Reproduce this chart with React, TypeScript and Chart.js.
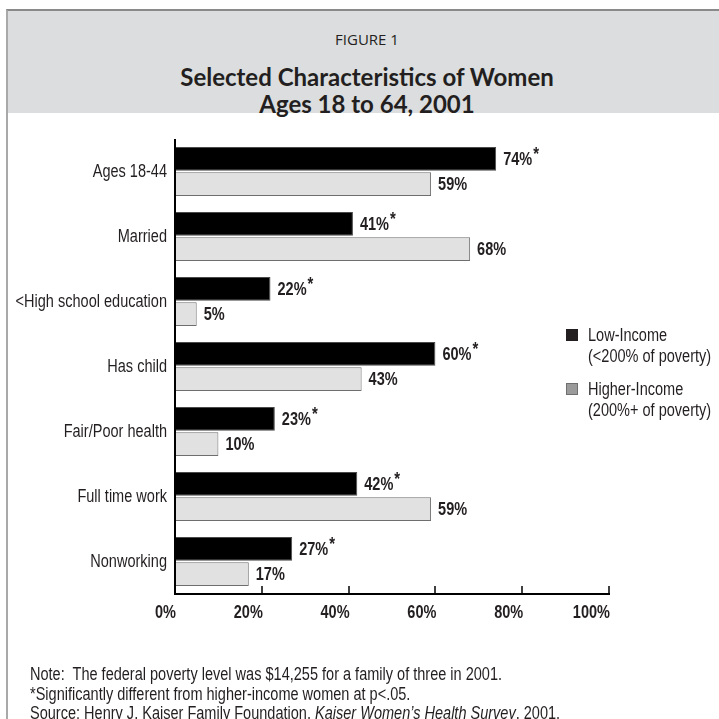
import React, { useEffect, useRef } from "react";
import { Chart, registerables } from "chart.js";

Chart.register(...registerables);

const categories = [
  "Ages 18-44",
  "Married",
  "<High school education",
  "Has child",
  "Fair/Poor health",
  "Full time work",
  "Nonworking",
];
const lowIncome = [74, 41, 22, 60, 23, 42, 27];
const higherIncome = [59, 68, 5, 43, 10, 59, 17];
const lowSignificant = [true, true, true, true, true, true, true];
const xTickValues = [0, 20, 40, 60, 80, 100];
const seriesNames = ["Low-Income", "Higher-Income"];
const seriesSubtitles = ["(<200% of poverty)", "(200%+ of poverty)"];
const legendSwatch = ["#231f20", "#9b9b9b"];
const legendSwatchBorder = ["#231f20", "#6f6f6f"];

const SANS = '"Liberation Sans", Arial, Helvetica, sans-serif';
const SX = 0.83; // horizontal condensing, imitating Helvetica Condensed
const FS = 17.5;
const TEXT = "#231f20";

function drawText(
  ctx: CanvasRenderingContext2D,
  text: string,
  x: number,
  y: number,
  align: CanvasTextAlign,
  font: string
): number {
  ctx.save();
  ctx.font = font;
  ctx.textAlign = align;
  ctx.textBaseline = "middle";
  ctx.translate(x, y);
  ctx.scale(SX, 1);
  ctx.fillText(text, 0, 0);
  const w = ctx.measureText(text).width * SX;
  ctx.restore();
  return w;
}

const overlayPlugin = {
  id: "overlay",
  afterDraw(chart: any) {
    const ctx = chart.ctx as CanvasRenderingContext2D;
    const xs = chart.scales.x;
    const ys = chart.scales.y;
    const area = chart.chartArea;
    ctx.save();
    ctx.fillStyle = TEXT;

    // category labels
    categories.forEach((c, i) => {
      drawText(ctx, c, area.left - 8, ys.getPixelForValue(i) + 1, "right", `${FS}px ${SANS}`);
    });

    // axes
    ctx.strokeStyle = "#000";
    ctx.lineWidth = 2;
    ctx.beginPath();
    ctx.moveTo(area.left, area.top);
    ctx.lineTo(area.left, area.bottom);
    ctx.lineTo(area.right + 1, area.bottom);
    ctx.stroke();

    // tick marks (inward)
    ctx.lineWidth = 1.5;
    xTickValues.forEach((v) => {
      if (v === 0) return;
      const px = Math.round(xs.getPixelForValue(v));
      ctx.beginPath();
      ctx.moveTo(px, area.bottom);
      ctx.lineTo(px, area.bottom - 8);
      ctx.stroke();
    });

    // tick labels
    xTickValues.forEach((v) => {
      const px = xs.getPixelForValue(v);
      drawText(ctx, `${v}%`, px + 1, area.bottom + 19, "right", `bold ${FS}px ${SANS}`);
    });

    // value labels
    chart.data.datasets.forEach((ds: any, di: number) => {
      const meta = chart.getDatasetMeta(di);
      meta.data.forEach((el: any, i: number) => {
        const v = ds.data[i];
        const txt = `${v}%`;
        const tx = el.x + 7;
        const ty = el.y + 1;
        const w = drawText(ctx, txt, tx, ty, "left", `bold ${FS}px ${SANS}`);
        if (di === 0 && lowSignificant[i]) {
          drawText(ctx, "*", tx + w + 1, ty - 5, "left", `bold 18px ${SANS}`);
        }
      });
    });

    // legend
    const legendTop = [329, 383];
    seriesNames.forEach((name, i) => {
      const top = legendTop[i];
      ctx.fillStyle = legendSwatch[i];
      ctx.fillRect(566, top, 12, 12);
      ctx.strokeStyle = legendSwatchBorder[i];
      ctx.lineWidth = 1;
      ctx.strokeRect(566.5, top + 0.5, 11, 11);
      ctx.fillStyle = TEXT;
      drawText(ctx, name, 588, top + 7, "left", `${FS}px ${SANS}`);
      drawText(ctx, seriesSubtitles[i], 588, top + 28, "left", `${FS}px ${SANS}`);
    });

    ctx.restore();
  },
};

export default function App() {
  const ref = useRef<HTMLCanvasElement>(null);

  useEffect(() => {
    const canvas = ref.current;
    if (!canvas) return;
    const chart = new Chart(canvas, {
      type: "bar",
      data: {
        labels: categories,
        datasets: [
          {
            label: seriesNames[0],
            data: lowIncome,
            backgroundColor: "#000000",
            borderColor: "#4a4a4a",
            borderWidth: 1,
            barPercentage: 0.94,
            categoryPercentage: 0.775,
          },
          {
            label: seriesNames[1],
            data: higherIncome,
            backgroundColor: "#e1e1e1",
            borderColor: "#6e6e6e",
            borderWidth: 1,
            barPercentage: 0.94,
            categoryPercentage: 0.775,
          },
        ],
      },
      options: {
        indexAxis: "y",
        animation: false,
        responsive: false,
        devicePixelRatio: 1,
        layout: { padding: { left: 0, top: 139, right: 110, bottom: 0 } },
        plugins: {
          legend: { display: false },
          tooltip: { enabled: false },
          title: { display: false },
        },
        scales: {
          x: {
            type: "linear",
            min: 0,
            max: 100,
            position: "bottom",
            grid: { display: false, drawTicks: false },
            border: { display: false },
            ticks: { display: false },
            afterFit: (s: any) => {
              s.height = 125;
            },
          },
          y: {
            type: "category",
            grid: { display: false, drawTicks: false },
            border: { display: false },
            ticks: { display: false },
            afterFit: (s: any) => {
              s.width = 175;
            },
          },
        },
      },
      plugins: [overlayPlugin],
    } as any);
    return () => chart.destroy();
  }, []);

  const headerFont = '"Open Sans", "Noto Sans", sans-serif';
  const titleFont = 'Lato, "Open Sans", sans-serif';
  const noteStyle: React.CSSProperties = {
    position: "absolute",
    left: 30,
    height: 20,
    lineHeight: "20px",
    fontFamily: SANS,
    fontSize: FS,
    color: TEXT,
    whiteSpace: "nowrap",
    transform: `scaleX(${SX})`,
    transformOrigin: "0 0",
  };

  return (
    <div
      style={{
        position: "fixed",
        left: 0,
        top: 0,
        width: 719,
        height: 719,
        background: "#ffffff",
        overflow: "hidden",
      }}
    >
      <div
        style={{
          position: "absolute",
          left: 6,
          top: 9,
          width: 800,
          height: 800,
          borderLeft: "2px solid #a9a9a9",
          borderTop: "2px solid #8a8a8a",
        }}
      />
      <div
        style={{
          position: "absolute",
          left: 8,
          top: 11,
          width: 720,
          height: 102,
          background: "#dcdddf",
        }}
      />
      <div
        style={{
          position: "absolute",
          left: 9,
          width: 716,
          top: 29,
          height: 20,
          lineHeight: "20px",
          textAlign: "center",
          fontFamily: headerFont,
          fontSize: 15,
          color: TEXT,
        }}
      >
        FIGURE 1
      </div>
      <div
        style={{
          position: "absolute",
          left: 9,
          width: 716,
          top: 63,
          height: 28,
          lineHeight: "28px",
          textAlign: "center",
          fontFamily: titleFont,
          fontWeight: 700,
          fontSize: 24,
          color: TEXT,
        }}
      >
        Selected Characteristics of Women
      </div>
      <div
        style={{
          position: "absolute",
          left: 9,
          width: 716,
          top: 90,
          height: 28,
          lineHeight: "28px",
          textAlign: "center",
          fontFamily: titleFont,
          fontWeight: 700,
          fontSize: 24,
          color: TEXT,
        }}
      >
        Ages 18 to 64, 2001
      </div>
      <canvas
        ref={ref}
        width={719}
        height={719}
        style={{ position: "absolute", left: 0, top: 0, width: 719, height: 719 }}
      />
      <div style={{ ...noteStyle, top: 664 }}>
        Note:&nbsp; The federal poverty level was $14,255 for a family of three in 2001.
      </div>
      <div style={{ ...noteStyle, top: 684 }}>
        *Significantly different from higher-income women at p&lt;.05.
      </div>
      <div style={{ ...noteStyle, top: 703 }}>
        Source: Henry J. Kaiser Family Foundation, <i>Kaiser Women’s Health Survey</i>, 2001.
      </div>
    </div>
  );
}
